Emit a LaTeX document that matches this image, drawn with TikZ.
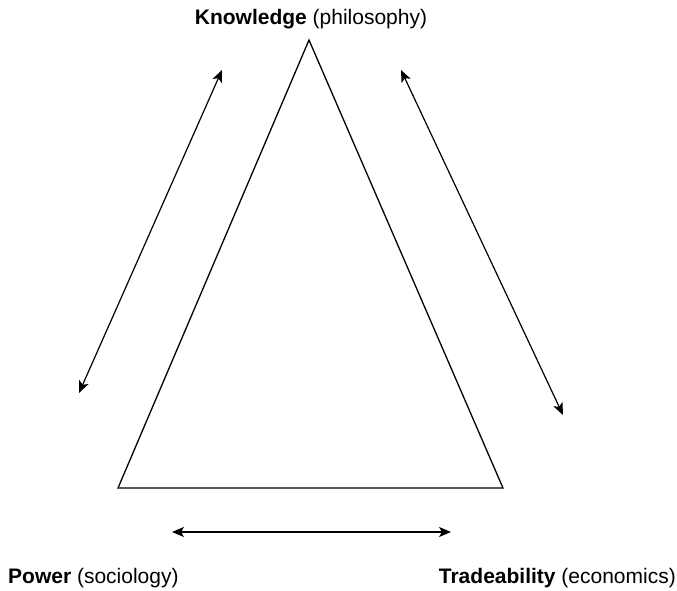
\documentclass[tikz,border=0pt]{standalone}
\usepackage{fontspec}
\setmainfont{Liberation Sans}
\usetikzlibrary{arrows.meta}
\tikzset{
  lbl/.style={inner sep=0pt, font=\fontsize{21}{25}\selectfont},
  edge/.style={line width=1.3pt, line join=miter},
  dblarrow/.style={line width=1.2pt, {Stealth[length=12pt,width=10pt,inset=3pt]}-{Stealth[length=12pt,width=10pt,inset=3pt]}}
}
\begin{document}
\begin{tikzpicture}[x=1pt,y=-1pt]
\path[use as bounding box] (0,0) rectangle (677,590);
% triangle corners
\coordinate (apex) at (309,40);
\coordinate (bl) at (118,488);
\coordinate (br) at (503,488);
\draw[edge] (apex) -- (br) -- (bl) -- cycle;
% arrow end points
\coordinate (l1) at (222,70);
\coordinate (l2) at (79,393);
\coordinate (r1) at (401,70);
\coordinate (r2) at (563,415);
\coordinate (b1) at (172,532);
\coordinate (b2) at (451,532);
\draw[dblarrow] (l1) -- (l2);
\draw[dblarrow] (r1) -- (r2);
\draw[dblarrow] (b1) -- (b2);
% labels
\node[lbl, anchor=base] (know) at (311,24) {\textbf{Knowledge} (philosophy)};
\node[lbl, anchor=base west] (power) at (8,583) {\textbf{Power} (sociology)};
\node[lbl, anchor=base east] (trade) at (676,583) {\textbf{Tradeability} (economics)};
\end{tikzpicture}
\end{document}
